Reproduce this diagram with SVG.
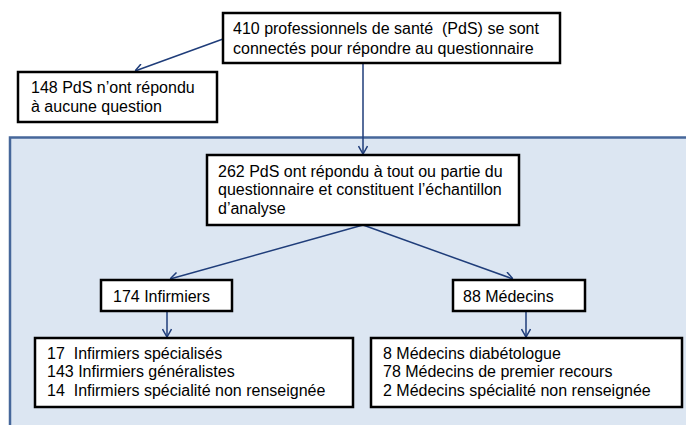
<svg xmlns="http://www.w3.org/2000/svg" width="686" height="425" viewBox="0 0 686 425">
<style>
.box{fill:#fff;stroke:#000;stroke-width:2.5}
.t{font-family:"Liberation Sans",Arial,sans-serif;font-size:16px;fill:#000;white-space:pre}
.c{stroke:#1f3d7a;stroke-width:1.5;fill:none;marker-end:url(#ah)}
</style>
<defs>
<marker id="ah" viewBox="0 0 10 10" refX="10" refY="5" markerWidth="10" markerHeight="10" markerUnits="userSpaceOnUse" orient="auto">
<path d="M2,0.5 L10,5 L2,9.5" fill="none" stroke="#1f3d7a" stroke-width="1.5"/>
</marker>
</defs>
<rect width="686" height="425" fill="#fff"/>
<rect id="panel" x="10" y="137.5" width="690" height="300" fill="#dce6f2" stroke="#46679a" stroke-width="2.5"/>
<g id="connectors">
<line class="c" x1="223" y1="39" x2="135" y2="71"/>
<line class="c" x1="363" y1="63" x2="363" y2="154"/>
<line class="c" x1="363" y1="225" x2="170" y2="279"/>
<line class="c" x1="363" y1="225" x2="513" y2="279"/>
<line class="c" x1="167" y1="311" x2="167" y2="337"/>
<line class="c" x1="526" y1="311" x2="526" y2="337"/>
</g>
<g id="n1">
<rect class="box" x="223" y="13" width="337" height="50"/>
<text class="t" x="233" y="34">410 professionnels de santé  (PdS) se sont</text>
<text class="t" x="233" y="54">connectés pour répondre au questionnaire</text>
</g>
<g id="n2">
<rect class="box" x="18" y="72" width="199" height="50"/>
<text class="t" x="31" y="93">148 PdS n’ont répondu</text>
<text class="t" x="31" y="112">à aucune question</text>
</g>
<g id="n3">
<rect class="box" x="207" y="155" width="312" height="70"/>
<text class="t" x="218" y="177">262 PdS ont répondu à tout ou partie du</text>
<text class="t" x="218" y="195">questionnaire et constituent l’échantillon</text>
<text class="t" x="218" y="214">d’analyse</text>
</g>
<g id="n4">
<rect class="box" x="101" y="280" width="131" height="31"/>
<text class="t" x="113" y="302">174 Infirmiers</text>
</g>
<g id="n5">
<rect class="box" x="453" y="280" width="132" height="31"/>
<text class="t" x="463" y="302">88 Médecins</text>
</g>
<g id="n6">
<rect class="box" x="35" y="338" width="318" height="69"/>
<text class="t" x="47" y="359">17  Infirmiers spécialisés</text>
<text class="t" x="47" y="377">143 Infirmiers généralistes</text>
<text class="t" x="47" y="396">14  Infirmiers spécialité non renseignée</text>
</g>
<g id="n7">
<rect class="box" x="371" y="338" width="311" height="69"/>
<text class="t" x="383" y="359">8 Médecins diabétologue</text>
<text class="t" x="383" y="377">78 Médecins de premier recours</text>
<text class="t" x="383" y="396">2 Médecins spécialité non renseignée</text>
</g>
</svg>
